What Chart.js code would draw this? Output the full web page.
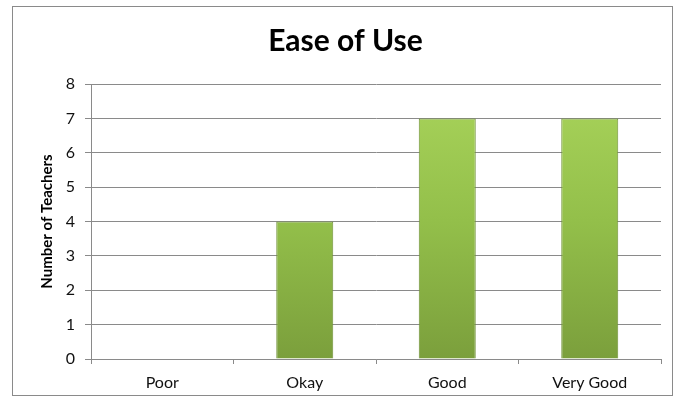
<!DOCTYPE html>
<html>
<head>
<meta charset="utf-8">
<script src="https://cdn.jsdelivr.net/npm/chart.js@4.4.1/dist/chart.umd.min.js"></script>
<style>
  html, body { margin: 0; padding: 0; background: #fff; }
  #wrap { width: 685px; height: 407px; position: relative; }
</style>
</head>
<body>
<div id="wrap"><canvas id="c" width="685" height="407"></canvas></div>
<script>
const categories = ["Poor", "Okay", "Good", "Very Good"];
const teachers = [0, 4, 7, 7];
const yTicks = [0, 1, 2, 3, 4, 5, 6, 7, 8];
const chartTitle = "Ease of Use";
const yTitle = "Number of Teachers";

const frame = {
  id: 'frame',
  beforeDraw(chart) {
    const ctx = chart.ctx;
    ctx.save();
    ctx.fillStyle = '#fff';
    ctx.fillRect(0, 0, chart.width, chart.height);
    ctx.strokeStyle = '#8a8a8a';
    ctx.lineWidth = 1;
    ctx.strokeRect(12.5, 6.5, 660, 389);
    ctx.restore();
  }
};

function barFill(context) {
  const chart = context.chart;
  const area = chart.chartArea;
  if (!area) return '#8fb848';
  const g = chart.ctx.createLinearGradient(0, area.top, 0, area.bottom);
  g.addColorStop(0, '#a9d45b');
  g.addColorStop(0.5, '#93bf4a');
  g.addColorStop(1, '#7b9f3c');
  return g;
}

new Chart(document.getElementById('c'), {
  type: 'bar',
  data: {
    labels: categories,
    datasets: [{
      data: teachers,
      backgroundColor: barFill,
      borderColor: '#6f9036',
      borderWidth: 1,
      categoryPercentage: 0.4,
      barPercentage: 1.0
    }]
  },
  plugins: [frame],
  options: {
    responsive: false,
    animation: false,
    devicePixelRatio: 1,
    layout: { padding: { left: 30, right: 24, top: 0, bottom: 12 } },
    plugins: {
      legend: { display: false },
      tooltip: { enabled: false },
      title: {
        display: true,
        text: chartTitle,
        color: '#000',
        font: { family: 'Lato', size: 30, weight: 'bold', lineHeight: 1.2 },
        padding: { top: 23, bottom: 25 }
      }
    },
    scales: {
      x: {
        offset: true,
        afterFit(scale) { scale.height = 36; },
        grid: { display: true, drawOnChartArea: false, offset: true, color: '#8a8a8a', tickLength: 5 },
        border: { display: true, color: '#8a8a8a' },
        ticks: { color: '#111', font: { family: 'Lato', size: 16 }, padding: 9 }
      },
      y: {
        min: 0, max: 8,
        afterFit(scale) { scale.width = 61; },
        afterBuildTicks(scale) { scale.ticks = yTicks.map(v => ({ value: v })); },
        grid: { color: '#8a8a8a', tickLength: 6 },
        border: { display: true, color: '#8a8a8a' },
        ticks: { color: '#111', font: { family: 'Lato', size: 16 }, padding: 10, stepSize: 1 },
        title: {
          display: true,
          text: yTitle,
          color: '#000',
          font: { family: 'Lato', size: 15, weight: 'bold', lineHeight: 1.2 },
          padding: { top: 8, bottom: 0 }
        }
      }
    }
  }
});
</script>
</body>
</html>
